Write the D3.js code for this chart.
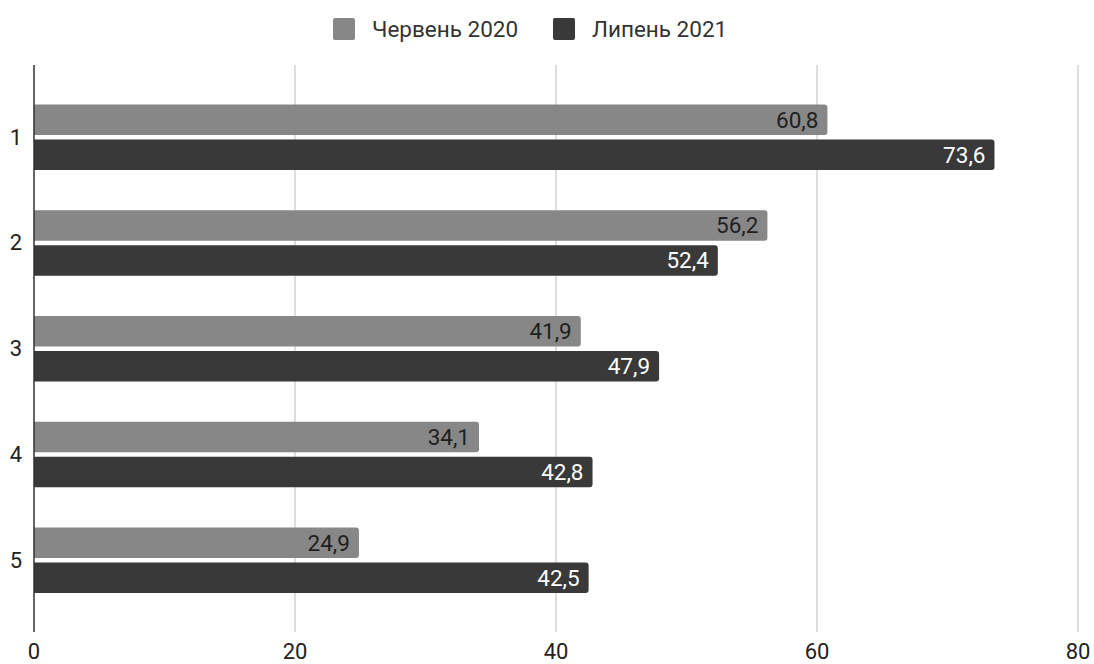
<!DOCTYPE html>
<html>
<head>
<meta charset="utf-8">
<script src="https://cdn.jsdelivr.net/npm/d3@7"></script>
<style>
  body { margin: 0; background: #fff; }
  svg { font-family: Roboto, "Noto Sans", sans-serif; }
</style>
</head>
<body>
<svg id="chart" width="1094" height="664"></svg>
<script>
// data
var categories = ["1", "2", "3", "4", "5"];
var seriesNames = ["Червень 2020", "Липень 2021"];
var june2020 = [60.8, 56.2, 41.9, 34.1, 24.9];
var july2021 = [73.6, 52.4, 47.9, 42.8, 42.5];
var xTicks = [0, 20, 40, 60, 80];
var seriesColors = ["#878787", "#393939"];
var labelColors = ["#1f1f1f", "#ffffff"];

var svg = d3.select("#chart");
var plotLeft = 34, plotRight = 1078, plotTop = 65, plotBottom = 632;

var x = d3.scaleLinear().domain([0, 80]).range([plotLeft, plotRight]);
var y = d3.scaleBand().domain(categories).range([plotTop, plotBottom])
          .paddingInner(0).paddingOuter(0.181);
var ySub = d3.scaleBand().domain([0, 1]).range([-32.5, 33]).paddingInner(0.13);

// gridlines
svg.append("g")
    .selectAll("line")
    .data(xTicks.filter(function(d) { return d > 0; }))
    .enter().append("line")
    .attr("x1", function(d) { return x(d); })
    .attr("x2", function(d) { return x(d); })
    .attr("y1", plotTop)
    .attr("y2", plotBottom)
    .attr("stroke", "#cccccc")
    .attr("stroke-width", 1.3);

// bars with rounded right corners
function barPath(x0, x1, y0, h, r) {
    return "M" + x0 + "," + y0 +
           "H" + (x1 - r) +
           "Q" + x1 + "," + y0 + " " + x1 + "," + (y0 + r) +
           "V" + (y0 + h - r) +
           "Q" + x1 + "," + (y0 + h) + " " + (x1 - r) + "," + (y0 + h) +
           "H" + x0 + "Z";
}

var rows = [];
categories.forEach(function(c, i) {
    rows.push({cat: c, s: 0, v: june2020[i]});
    rows.push({cat: c, s: 1, v: july2021[i]});
});

var barH = ySub.bandwidth();
function barTop(d) { return y(d.cat) + y.bandwidth() / 2 + ySub(d.s); }

svg.append("g").selectAll("path")
    .data(rows)
    .enter().append("path")
    .attr("d", function(d) { return barPath(x(0), x(d.v), barTop(d), barH, 3); })
    .attr("fill", function(d) { return seriesColors[d.s]; });

svg.append("g").selectAll("text")
    .data(rows)
    .enter().append("text")
    .attr("x", function(d) { return x(d.v) - 9; })
    .attr("y", function(d) { return barTop(d) + barH / 2; })
    .attr("dy", "0.35em")
    .attr("text-anchor", "end")
    .style("font-size", "22.5px")
    .attr("fill", function(d) { return labelColors[d.s]; })
    .text(function(d) { return String(d.v).replace(".", ","); });

// zero axis line
svg.append("line")
    .attr("x1", x(0)).attr("x2", x(0))
    .attr("y1", plotTop).attr("y2", plotBottom)
    .attr("stroke", "#333333")
    .attr("stroke-width", 1.5);

// category labels
svg.append("g").selectAll("text")
    .data(categories)
    .enter().append("text")
    .attr("x", 22)
    .attr("y", function(d) { return y(d) + y.bandwidth() / 2; })
    .attr("dy", "0.35em")
    .attr("text-anchor", "end")
    .style("font-size", "22px")
    .attr("fill", "#222222")
    .text(function(d) { return d; });

// x tick labels
svg.append("g").selectAll("text")
    .data(xTicks)
    .enter().append("text")
    .attr("x", function(d) { return x(d); })
    .attr("y", 651)
    .attr("dy", "0.35em")
    .attr("text-anchor", "middle")
    .style("font-size", "22px")
    .attr("fill", "#222222")
    .text(function(d) { return d; });

// legend
var legendX = [333, 553];
var legend = svg.append("g").selectAll("g")
    .data(seriesNames)
    .enter().append("g")
    .attr("transform", function(d, i) { return "translate(" + legendX[i] + ",18)"; });

legend.append("rect")
    .attr("width", 22).attr("height", 22)
    .attr("rx", 2)
    .attr("fill", function(d, i) { return seriesColors[i]; });

legend.append("text")
    .attr("x", 39)
    .attr("y", 11)
    .attr("dy", "0.35em")
    .style("font-size", "22.5px")
    .attr("fill", "#333333")
    .text(function(d) { return d; });
</script>
</body>
</html>
